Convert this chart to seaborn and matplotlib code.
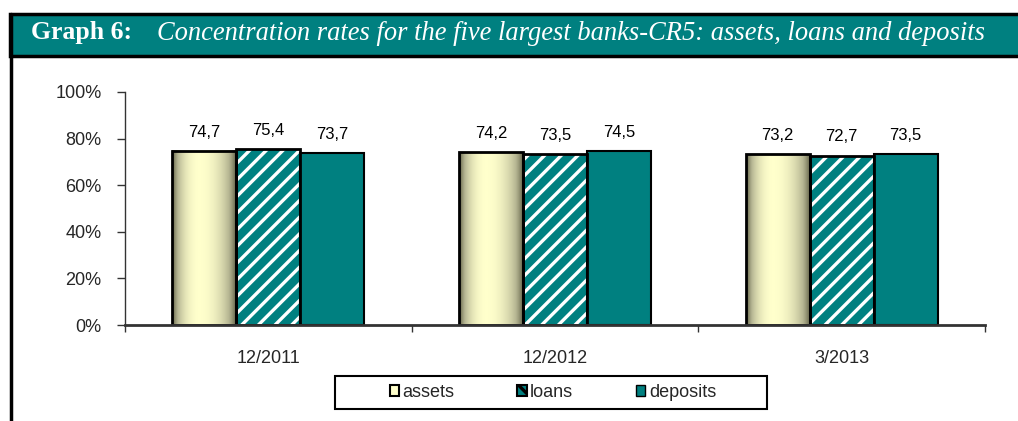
import numpy as np
import pandas as pd
import matplotlib
matplotlib.use("Agg")
import matplotlib.pyplot as plt
from matplotlib.patches import Rectangle, Patch
from matplotlib.lines import Line2D
from matplotlib.colors import LinearSegmentedColormap
from matplotlib.ticker import FixedLocator, FuncFormatter
import seaborn as sns

# ---- data ----
periods = ["12/2011", "12/2012", "3/2013"]
series = ["assets", "loans", "deposits"]
assets = [74.7, 74.2, 73.2]
loans = [75.4, 73.5, 72.7]
deposits = [73.7, 74.5, 73.5]
yticks = [0, 20, 40, 60, 80, 100]
title_bold = "Graph 6:"
title_italic = "Concentration rates for the five largest banks-CR5: assets, loans and deposits"

df = pd.DataFrame({
    "period": periods * 3,
    "series": [s for s in series for _ in periods],
    "value": assets + loans + deposits,
})

TEAL = "#008080"
CREAM = "#ffffcc"
W, H = 1018, 421

sns.set_style("white")
plt.rcParams["font.family"] = ["Liberation Sans", "DejaVu Sans"]
plt.rcParams["hatch.linewidth"] = 2.4

fig = plt.figure(figsize=(W / 100, H / 100), dpi=100)
ax = fig.add_axes([125 / W, 1 - 325 / H, (985 - 125) / W, (325 - 92) / H])

sns.barplot(data=df, x="period", y="value", hue="series", hue_order=series,
            palette={"assets": CREAM, "loans": TEAL, "deposits": TEAL},
            width=0.67, dodge=True, legend=False, errorbar=None, ax=ax,
            saturation=1.0)

# style bars
grad_cmap = LinearSegmentedColormap.from_list("g", ["#45452f", "#b5b592", CREAM])
t = np.linspace(0, 1, 200)
peak = 0.42
d = np.where(t < peak, (peak - t) / peak, (t - peak) / (1 - peak))
prof = (1 - d ** 2) ** 0.7
grad = prof[np.newaxis, :]

for i, cont in enumerate(ax.containers):
    for p in cont.patches:
        x, y0 = p.get_x(), p.get_y()
        w, h = p.get_width(), p.get_height()
        if i == 0:
            p.set_facecolor("none")
            ax.imshow(grad, extent=(x, x + w, y0, y0 + h), aspect="auto",
                      cmap=grad_cmap, vmin=0, vmax=1, zorder=2,
                      interpolation="bilinear")
            p.set_edgecolor("black")
            p.set_linewidth(2.0)
            p.set_zorder(3)
        elif i == 1:
            p.set_facecolor(TEAL)
            p.set_edgecolor("white")
            p.set_hatch("//")
            p.set_linewidth(0)
            p.set_zorder(2)
            ax.add_patch(Rectangle((x, y0), w, h, facecolor="none",
                                   edgecolor="black", linewidth=2.0, zorder=3))
        else:
            p.set_facecolor(TEAL)
            p.set_edgecolor("black")
            p.set_linewidth(1.5)
            p.set_zorder(3)
    ax.bar_label(cont, labels=[f"{v:.1f}".replace(".", ",") for v in cont.datavalues],
                 padding=8, fontsize=12, color="black")

ax.set_xlim(-0.5, 2.5)
ax.set_ylim(0, 100)
ax.set_yticks(yticks)
ax.yaxis.set_major_formatter(FuncFormatter(lambda v, _: f"{v:.0f}%"))
ax.set_xlabel("")
ax.set_ylabel("")
ax.xaxis.set_minor_locator(FixedLocator([-0.5, 0.5, 1.5, 2.5]))
ax.tick_params(axis="x", which="major", length=0, pad=18, labelsize=13)
ax.tick_params(axis="x", which="minor", length=5, width=1, color="#333333",
               direction="out", bottom=True)
ax.tick_params(axis="y", which="major", length=6, width=1, color="#333333",
               direction="out", left=True, pad=11, labelsize=13)
for s in ["top", "right"]:
    ax.spines[s].set_visible(False)
ax.spines["left"].set_color("#333333")
ax.spines["left"].set_linewidth(1.0)
ax.spines["bottom"].set_color("#333333")
ax.spines["bottom"].set_linewidth(2.0)
ax.spines["bottom"].set_zorder(4)
ax.grid(False)

# header band
fig.patches.append(Rectangle((10 / W, 1 - 55.5 / H), 1.05, 41.5 / H,
                             transform=fig.transFigure, facecolor=TEAL,
                             edgecolor="black", linewidth=2.5, zorder=0))
fig.lines.append(Line2D([10.5 / W, 10.5 / W], [0, 1 - 14 / H],
                        transform=fig.transFigure, color="black", linewidth=2.5))
fig.text(31 / W, 1 - 39.5 / H, title_bold, color="white", fontsize=18.5,
         fontweight="bold", family=["Liberation Serif", "DejaVu Serif"],
         va="baseline", ha="left")
fig.text(157 / W, 1 - 39.5 / H, title_italic, color="white", fontsize=19.1,
         fontstyle="italic", family=["Liberation Serif", "DejaVu Serif"],
         va="baseline", ha="left")

# legend
fig.patches.append(Rectangle((335 / W, 1 - 409 / H), (767 - 335) / W, (409 - 376) / H,
                             transform=fig.transFigure, facecolor="white",
                             edgecolor="black", linewidth=1.5, zorder=1))
handles = [
    Patch(facecolor=CREAM, edgecolor="black", linewidth=1.5),
    Patch(facecolor=TEAL, edgecolor="black", linewidth=1.5, hatch="\\\\"),
    Patch(facecolor=TEAL, edgecolor="black", linewidth=1.0),
]
leg = fig.legend(handles, series, loc="center", ncol=3,
                 bbox_to_anchor=(553 / W, 1 - 392.5 / H), frameon=False,
                 handlelength=0.5, handleheight=0.5, handletextpad=0.2,
                 columnspacing=3.5, fontsize=13)

fig.savefig("out.png", dpi=100)
